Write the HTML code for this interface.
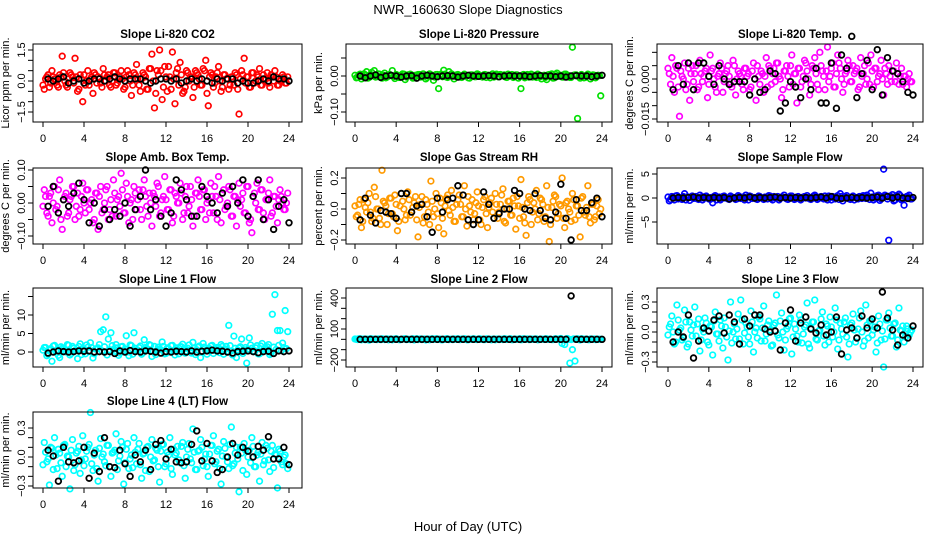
<!DOCTYPE html>
<html><head><meta charset="utf-8"><style>
html,body{margin:0;padding:0;background:#fff;}
svg{display:block;font-family:"Liberation Sans",sans-serif;}
</style></head><body>
<svg id="chart" width="936" height="540" viewBox="0 0 936 540">
<text x="468" y="14" text-anchor="middle" font-size="13">NWR_160630  Slope Diagnostics</text>
<text x="468" y="531" text-anchor="middle" font-size="13">Hour of Day (UTC)</text>
</svg>
<script>
// ---- data (per panel value arrays) ----
const xTicks = [0,4,8,12,16,20,24];
const co2Vals = [-0.4,0.2,-0.3,0.5,0.1,-0.2,0.3,1.2,0.0,-0.3,0.4,0.2,1.1,-0.5,0.3,-1.0,-0.2,0.5,0.1,-0.6,0.3,0.2,-0.1,0.6,0.0,0.3,-0.3,0.4,-0.2,0.1,0.5,-0.4,0.2,0.3,-0.7,0.4,0.8,-0.2,0.1,0.3,-0.4,0.6,1.3,-1.3,0.5,1.5,-0.9,0.7,-0.5,0.2,1.4,-1.1,0.6,0.9,-0.6,-0.3,0.4,0.2,-0.8,0.5,0.3,-0.2,0.6,1.0,-1.2,0.4,-0.3,0.2,0.7,-0.5,0.3,0.1,-0.4,0.2,-0.2,0.3,-1.6,0.5,1.1,0.2,-0.3,0.4,-0.1,0.3,0.6,-0.2,0.1,0.4,-0.3,0.2,0.5,-0.2,0.0,0.3,-0.1,0.2];
const co2Vals2 = [-0.2,0.1,0.3,-0.1,0.2,0.0,-0.3,0.2,0.4,-0.2,0.1,0.3,-0.1,0.2,-0.4,0.1,0.3,0.0,-0.2,0.2,0.4,-0.1,0.1,-0.3,0.3,0.2,-0.2,0.0,0.4,-0.1,0.2,0.1,-0.3,0.5,0.0,-0.2,0.3,0.1,-0.5,0.4,0.2,-0.4,0.6,0.0,-0.6,0.3,0.5,-0.3,0.2,0.7,-0.4,0.1,0.4,-0.2,0.3,-0.5,0.5,0.0,0.2,-0.3,0.4,0.1,-0.2,0.5,-0.6,0.2,0.3,-0.1,0.4,0.0,-0.3,0.3,0.1,-0.2,0.2,0.4,-0.4,0.1,0.3,-0.1,0.2,-0.3,0.4,0.0,0.2,-0.2,0.3,0.1,-0.1,0.3,0.0,0.2,-0.2,0.1,0.2,-0.1];
const co2Ref = [0.1,0.0,0.1,0.2,-0.1,0.0,0.1,-0.1,0.0,0.1,0.1,0.0,0.1,0.2,0.1,0.0,0.1,0.1,0.1,0.0,-0.1,0.0,0.1,0.1,0.0,0.1,-0.1,0.0,0.1,0.0,0.1,0.0,-0.1,0.1,0.0,0.1,0.1,-0.1,0.0,-0.1,-0.1,0.0,0.1,0.0,0.2,0.1,0.1,0.0];
const presVals = [-0.005,0.003,-0.008,0.006,0.012,-0.004,0.01,0.015,-0.002,0.005,-0.006,0.008,-0.003,0.004,0.015,-0.007,0.002,-0.004,0.006,-0.01,0.003,0.005,-0.006,0.002,0.004,-0.003,0.006,-0.008,0.001,0.003,-0.012,0.004,-0.035,0.005,0.016,-0.003,0.012,0.006,-0.008,0.003,0.002,-0.004,0.005,0.001,-0.006,0.003,-0.002,0.006,0.001,-0.003,0.004,0.002,-0.005,0.006,0.003,-0.002,0.004,0.001,-0.003,0.005,0.002,-0.004,0.003,-0.006,-0.035,0.004,0.002,-0.003,0.005,0.001,-0.004,0.003,-0.008,0.002,-0.01,0.004,0.006,-0.005,0.008,0.002,-0.003,0.005,0.002,-0.004,0.08,0.003,-0.118,-0.006,0.002,-0.004,0.005,-0.008,0.003,-0.005,0.002,-0.055];
const presVals2 = [0.002,-0.004,0.005,-0.002,0.003,-0.006,0.004,0.001,-0.003,0.006,-0.001,0.002,-0.005,0.003,0.001,-0.002,0.004,-0.004,0.002,0.005,-0.003,0.001,0.003,-0.005,0.002,0.004,-0.002,0.001,-0.004,0.006,0.002,-0.003,0.004,0.001,-0.002,0.005,-0.004,0.002,0.003,-0.001,0.004,-0.003,0.002,0.001,-0.005,0.003,0.002,-0.002,0.004,-0.001,0.003,-0.004,0.002,0.001,-0.003,0.005,-0.002,0.002,0.003,-0.004,0.001,0.004,-0.002,0.003,-0.001,0.002,-0.005,0.004,0.001,-0.003,0.002,0.005,-0.002,0.001,-0.004,0.003,0.002,-0.006,0.004,-0.001,0.002,-0.003,0.005,0.001,-0.004,0.002,0.003,-0.002,0.004,-0.005,0.001,0.003,-0.002,0.002,-0.001,0.001];
const presRef = [0,-0.005,0,0.003,-0.004,0,0.002,0,-0.003,0,0.001,-0.006,0,0.002,0,-0.002,0,0.001,0,-0.003,0,0.002,0,-0.001,0,0.001,0,-0.002,0,0.001,0,0,0,-0.002,0,0.001,0,0,-0.002,0,-0.003,0,0.001,0,0,-0.002,0,0.002];
const tempVals = [0.002,0.008,-0.005,0.004,-0.014,0.001,0.006,-0.002,-0.008,0.005,0.002,-0.004,0.007,-0.001,0.003,-0.007,0.009,0.004,-0.003,0.001,0.006,-0.005,0.002,0.005,-0.002,0.007,-0.006,0.003,0.001,-0.004,0.004,0.002,-0.003,0.006,-0.008,0.001,0.003,-0.005,0.008,0.005,-0.002,0.004,0.006,0.001,-0.007,0.003,0.005,-0.003,0.009,0.002,-0.009,0.004,-0.001,0.007,0.003,-0.006,0.005,0.008,-0.002,0.01,0.003,-0.004,0.012,0.001,0.006,-0.003,0.009,0.004,-0.005,0.002,0.007,-0.001,0.005,0.003,-0.004,0.008,0.002,-0.002,0.006,0.009,-0.003,0.004,0.001,0.007,-0.006,0.002,0.005,-0.001,0.003,0.006,-0.002,0.004,0.001,-0.003,0.002,-0.001];
const tempVals2 = [0.004,-0.002,0.001,0.005,-0.003,0.003,0.0,-0.004,0.004,0.002,-0.001,0.005,-0.003,0.002,0.001,0.004,-0.002,0.003,0.0,-0.005,0.002,0.004,-0.001,0.003,0.001,-0.003,0.005,0.0,0.002,-0.002,0.004,0.001,-0.004,0.003,0.0,0.005,-0.002,0.002,0.001,-0.003,0.004,0.002,-0.001,0.006,0.0,-0.004,0.003,0.001,0.005,-0.002,0.002,0.004,-0.003,0.001,0.006,0.0,-0.002,0.004,0.002,-0.004,0.005,0.001,0.003,-0.001,0.004,-0.003,0.002,0.006,0.0,-0.002,0.003,0.005,-0.001,0.002,0.004,-0.003,0.001,0.005,0.0,-0.002,0.003,0.004,-0.001,0.002,0.0,0.004,-0.002,0.001,0.003,-0.001,0.002,0.001,-0.002,0.001,0.0,-0.001];
const tempRef = [-0.004,0.005,-0.002,0.006,-0.004,0.006,0.006,0.001,-0.002,0.005,0.0,-0.002,-0.001,-0.001,-0.001,-0.006,0.0,-0.005,-0.004,0.003,0.002,-0.012,-0.009,-0.001,-0.003,-0.007,0.0,-0.004,0.004,-0.009,-0.009,0.006,-0.011,0.009,0.004,0.016,-0.007,0.002,0.007,-0.004,0.011,-0.006,0.008,0.003,0.002,-0.001,-0.005,-0.006];
const ambVals = [0.04,-0.03,0.02,-0.06,0.05,-0.01,0.07,-0.08,0.02,-0.04,0.01,0.05,-0.05,0.03,-0.02,0.06,-0.03,0.04,0.0,-0.06,0.03,-0.08,0.05,-0.02,0.04,-0.05,0.01,0.07,-0.04,0.02,0.09,-0.03,0.06,-0.06,0.01,0.05,-0.02,0.04,-0.05,0.07,-0.01,0.03,-0.07,0.02,0.06,-0.04,0.01,0.08,-0.02,0.04,-0.06,0.03,0.0,0.06,-0.05,0.02,-0.03,0.05,-0.07,0.03,0.07,-0.02,0.04,-0.05,0.01,0.06,-0.03,0.02,0.08,-0.06,0.04,-0.01,0.05,-0.04,0.02,-0.07,0.06,0.01,-0.03,0.05,-0.06,-0.09,0.03,0.06,-0.02,0.04,-0.05,0.01,0.07,-0.03,0.02,-0.06,0.04,0.0,-0.02,0.03];
const ambVals2 = [-0.01,0.02,-0.04,0.03,0.0,-0.02,0.04,-0.05,0.01,0.03,-0.03,0.02,0.05,-0.01,-0.04,0.02,0.0,0.04,-0.02,0.01,-0.05,0.03,0.02,-0.03,0.0,0.05,-0.02,-0.04,0.03,0.01,-0.01,0.04,-0.03,0.02,0.0,-0.05,0.03,0.01,-0.02,0.04,0.02,-0.04,0.0,0.03,-0.01,0.05,-0.03,0.02,0.01,-0.02,0.04,-0.04,0.02,0.0,0.03,-0.03,0.05,-0.01,0.01,-0.04,0.03,0.02,-0.02,0.04,0.0,-0.03,0.02,0.05,-0.05,0.01,0.03,-0.02,0.0,0.04,-0.04,0.02,0.01,-0.01,0.03,-0.03,0.05,-0.05,0.02,0.0,-0.02,0.04,-0.03,0.01,0.03,-0.04,0.02,-0.01,0.01,0.02,-0.02,0.0];
const ambRef = [-0.01,0.05,-0.03,0.01,-0.01,0.03,0.06,0.01,-0.06,0.0,-0.07,-0.02,-0.05,-0.02,-0.04,0.0,-0.07,-0.02,0.02,0.1,-0.02,0.01,-0.04,-0.07,-0.03,0.07,0.04,0.01,-0.04,-0.04,0.05,0.02,0.0,-0.03,0.03,-0.01,0.05,0.0,0.07,-0.04,0.02,0.07,-0.05,0.01,-0.08,-0.01,0.01,-0.06];
const rhVals = [-0.05,0.03,-0.12,0.06,-0.02,0.1,-0.08,0.14,0.0,-0.06,0.25,0.04,-0.1,0.07,-0.03,0.09,-0.14,0.02,0.05,-0.07,0.11,-0.04,0.01,0.08,-0.18,0.03,-0.09,0.06,-0.02,0.18,-0.05,0.1,-0.12,0.04,-0.16,0.07,-0.01,0.12,-0.08,0.03,0.09,-0.05,0.15,-0.11,0.02,0.06,-0.03,0.11,-0.07,0.01,0.08,-0.12,0.04,-0.02,0.1,-0.06,0.03,0.13,-0.09,0.05,-0.04,0.07,-0.13,0.02,0.19,-0.05,-0.17,0.08,-0.1,0.04,0.12,-0.03,0.06,-0.08,0.15,-0.21,0.01,0.09,-0.06,0.03,0.2,-0.12,0.05,-0.02,0.1,-0.07,0.02,-0.18,0.08,-0.04,0.15,-0.09,0.03,-0.05,0.06,0.0];
const rhVals2 = [0.02,-0.04,0.06,-0.08,0.01,0.04,-0.02,-0.06,0.08,0.0,-0.1,0.05,0.02,-0.03,0.07,-0.05,0.03,-0.08,0.1,0.0,-0.04,0.06,-0.02,0.04,-0.07,0.01,0.08,-0.05,0.03,-0.1,0.05,0.0,-0.03,0.07,-0.06,0.02,0.09,-0.04,0.01,-0.08,0.06,0.03,-0.05,0.0,0.08,-0.02,-0.07,0.04,0.02,-0.1,0.06,-0.03,0.01,0.07,-0.06,0.03,-0.02,0.09,-0.08,0.0,0.05,-0.04,0.02,0.08,-0.06,0.01,-0.09,0.04,0.06,-0.02,0.0,-0.07,0.07,0.03,-0.05,0.01,-0.1,0.05,0.08,-0.03,0.02,-0.06,0.04,0.0,-0.08,0.06,0.02,-0.04,0.07,-0.02,0.01,-0.05,0.03,-0.07,0.02,-0.03];
const rhRef = [-0.07,0.07,-0.04,-0.09,-0.01,-0.02,-0.03,-0.06,0.1,0.1,-0.02,0.02,0.03,-0.05,-0.15,0.07,-0.02,0.06,0.07,0.15,0.09,-0.07,-0.1,-0.07,0.11,0.03,-0.06,-0.03,0.0,0.0,0.12,0.1,0.0,-0.01,0.1,-0.01,-0.06,-0.07,-0.02,0.16,-0.06,-0.2,0.06,-0.01,-0.01,0.04,0.07,-0.05];
const sampVals = [-0.6,0.3,-0.4,0.5,0.1,-0.3,0.9,0.2,-0.5,0.4,0.0,-0.2,0.6,-0.4,0.3,0.1,-0.3,-1.0,0.5,0.2,-0.4,0.3,0.0,-0.2,0.4,0.1,-0.3,0.5,-0.1,0.2,0.6,-0.4,0.3,0.0,-0.2,0.4,0.1,-0.3,0.2,0.5,-0.1,0.3,0.0,-0.4,0.2,0.6,-0.2,0.1,0.4,-0.3,0.2,0.0,-0.1,0.3,0.5,-0.2,0.1,0.6,-0.3,0.2,0.0,0.4,-0.4,0.1,0.3,-0.2,0.5,0.9,-0.6,0.2,0.0,-0.3,0.4,0.1,-0.2,0.3,0.5,-0.1,0.2,1.0,-0.4,0.3,0.6,-0.2,6.0,0.4,-8.8,0.2,-0.6,0.5,0.8,-0.4,-1.5,0.3,0.6,-0.2];
const sampVals2 = [0.2,-0.3,0.1,0.4,-0.2,0.0,0.3,-0.4,0.2,0.1,-0.1,0.3,-0.3,0.2,0.0,0.4,-0.2,0.1,0.3,-0.4,0.2,-0.1,0.4,0.0,-0.3,0.2,0.1,-0.2,0.3,0.0,-0.4,0.2,0.4,-0.1,0.1,-0.3,0.3,0.0,0.2,-0.2,0.4,-0.4,0.1,0.3,-0.1,0.2,0.0,-0.3,0.4,0.1,-0.2,0.3,-0.4,0.2,0.0,0.1,-0.3,0.4,0.2,-0.1,0.3,-0.2,0.0,0.4,-0.4,0.2,0.1,-0.3,0.3,0.0,0.5,-0.2,0.2,-0.4,0.1,0.3,-0.1,0.4,0.6,-0.3,0.2,0.0,0.5,-0.5,0.3,0.6,-0.2,0.4,0.7,-0.4,0.2,0.5,-0.3,0.1,0.3,-0.2];
const sampRef = [0,0.1,0,0.1,0.2,0,0.1,0,0.1,0,0.1,-0.2,0,0.1,0,0.2,0,0.1,0,0.1,0.2,0,0.1,0,0.1,0,0.1,0,0.1,0.2,0,0.3,0,-0.1,0,0.1,0,0.1,0,0.1,0.2,0,0.3,0,0.2,0,-0.1,0.1];
const l1Vals = [1.2,-1.0,0.5,-2.5,1.8,0.3,-1.5,1.0,0.2,2.0,-0.8,1.5,0.4,-1.8,2.2,0.6,-0.5,1.3,2.5,-1.6,0.8,1.1,5.5,6.0,9.5,3.5,5.2,0.7,2.0,-0.9,1.4,0.3,4.4,-1.0,1.7,5.2,0.5,1.2,-0.6,3.3,0.9,2.0,-1.2,1.5,0.4,0.8,2.7,-0.5,1.1,0.3,1.8,-0.8,0.6,1.4,2.1,-0.3,1.0,0.5,2.6,-0.7,1.3,-1.5,2.3,0.4,0.9,1.6,-0.4,0.7,1.2,2.0,-0.6,1.5,7.2,0.3,4.3,-1.5,1.1,3.5,0.6,-3.0,3.8,1.0,0.2,1.7,-0.5,2.3,0.8,1.4,-0.7,10.2,15.5,5.8,5.8,2.4,11.2,5.5];
const l1Vals2 = [0.5,1.2,-0.6,0.9,1.6,0.2,-0.9,1.4,0.7,0.0,1.8,-0.4,1.0,0.4,1.5,-0.7,0.8,1.9,0.1,1.2,-0.5,0.9,2.0,0.3,1.4,-0.8,0.6,1.7,0.2,1.1,-0.3,1.5,0.8,0.0,1.9,-0.6,1.0,0.5,1.6,-0.2,1.2,0.7,1.8,0.1,-0.7,1.3,0.6,1.5,-0.4,0.9,1.7,0.3,1.1,-0.5,1.4,0.8,0.2,1.9,-0.3,1.0,0.6,1.6,0.0,1.3,-0.6,0.9,1.8,0.4,1.2,-0.2,1.5,0.7,0.1,1.7,-0.8,1.0,0.5,1.4,-0.4,1.2,0.8,1.9,0.2,1.1,-0.5,1.6,0.6,1.0,2.0,-0.3,1.3,0.7,1.8,0.4,1.2,0.9];
const l1Ref = [-0.3,0.0,0.3,0.1,0.0,0.1,0.3,0.2,0.3,0.0,0.1,0.0,0.1,-0.4,0.3,0.0,0.4,0.1,0.0,0.3,0.2,0.0,-0.3,0.1,0.0,0.2,0.1,0.0,0.3,0.0,0.2,0.3,0.5,0.3,0.2,0.0,-0.3,0.1,0.2,0.3,0.1,-0.2,0.1,0.2,-0.4,0.3,0.1,0.3];
const l2Vals = [0,5,-5,3,0,-8,4,2,-3,0,6,-2,4,0,-5,3,1,-4,2,6,0,-3,5,1,-2,4,0,-6,3,2,-1,5,0,-4,2,6,-3,1,4,0,-2,3,5,-4,1,0,3,-2,6,1,-3,4,0,2,-5,3,1,-2,4,0,6,-3,2,0,-4,5,1,-2,3,0,4,-3,2,-1,5,0,-2,3,1,4,-40,-50,8,-230,-100,-210,5,-6,3,0,-2,4,1,-3,2,0];
const l2Vals2 = [3,-2,6,0,-4,2,5,-1,0,4,-3,2,1,-5,3,0,6,-2,1,4,-3,0,2,-6,5,1,-2,3,0,-4,6,2,-1,3,-5,0,4,1,-3,2,5,-2,0,3,-4,1,6,-1,2,0,-3,4,1,-5,3,2,-2,0,5,-1,3,-4,2,0,6,-3,1,4,-2,0,3,-5,2,1,4,-1,0,-3,5,2,8,-6,3,0,-2,4,1,-3,5,0,2,-4,1,3,-1,0];
const l2Ref = [0,0,0,0,0,0,0,0,0,0,0,0,0,0,0,0,0,0,0,0,0,0,0,0,0,0,0,0,0,0,0,0,0,0,0,0,0,0,0,0,0,420,0,0,0,0,0,0];
const l3Vals = [0.05,0.16,-0.12,0.27,0.02,-0.08,0.22,-0.15,0.1,-0.04,0.25,0.08,-0.19,0.03,0.14,-0.1,0.06,-0.23,0.2,-0.02,0.12,-0.16,0.05,-0.28,0.3,0.0,-0.07,0.18,0.32,-0.12,0.09,-0.05,0.21,-0.2,0.04,0.15,-0.09,0.26,-0.02,0.11,-0.14,0.07,0.37,-0.06,0.19,-0.18,0.03,0.13,-0.22,0.08,-0.04,0.17,-0.11,0.05,0.29,-0.16,0.1,0.32,-0.08,0.02,0.2,-0.13,0.06,0.15,-0.05,0.24,-0.17,0.09,-0.02,0.14,-0.25,0.07,0.18,-0.1,0.03,0.21,-0.14,0.27,-0.06,0.11,0.02,-0.2,0.16,-0.08,-0.35,0.12,0.19,-0.04,0.08,-0.15,0.24,0.01,-0.1,0.06,-0.03,0.02];
const l3Vals2 = [-0.03,0.08,0.0,-0.1,0.12,0.04,-0.06,0.1,-0.12,0.02,0.07,-0.04,0.13,-0.08,0.0,0.09,-0.13,0.05,0.11,-0.02,-0.09,0.06,0.14,-0.05,0.01,-0.11,0.08,0.03,-0.07,0.12,-0.01,0.05,-0.12,0.1,0.0,-0.06,0.13,0.04,-0.09,0.07,0.02,-0.13,0.09,-0.03,0.11,0.0,-0.08,0.06,0.14,-0.05,0.03,-0.1,0.12,-0.02,0.07,-0.12,0.04,0.1,-0.07,0.01,0.13,-0.04,0.08,-0.1,0.05,0.0,0.12,-0.08,0.03,0.1,-0.05,-0.12,0.09,0.02,-0.06,0.14,0.0,-0.09,0.07,0.11,-0.03,0.05,-0.11,0.08,0.01,-0.07,0.12,0.04,-0.04,0.09,-0.08,0.02,0.06,-0.05,0.03,0.0];
const l3Ref = [-0.1,0.0,-0.05,0.17,-0.26,-0.09,0.04,0.01,0.12,0.16,-0.01,0.17,0.1,-0.12,0.13,0.06,0.17,0.17,0.03,0.0,0.01,-0.18,0.09,0.22,-0.09,0.09,0.15,0.03,-0.01,0.07,-0.03,0.0,0.15,-0.22,0.02,0.04,-0.06,0.16,0.04,0.13,0.04,0.4,0.14,0.02,-0.13,-0.03,-0.06,0.06];
const l4Vals = [0.15,-0.05,-0.29,0.09,0.2,-0.12,0.04,-0.2,0.13,0.01,-0.33,0.18,-0.08,0.06,-0.17,0.22,-0.02,0.1,0.46,-0.14,0.07,-0.25,0.19,0.03,-0.09,0.12,-0.2,0.05,0.24,-0.04,0.16,-0.28,0.08,-0.12,0.02,0.2,-0.07,0.14,-0.22,0.04,0.1,-0.15,0.18,-0.03,0.07,-0.26,0.13,-0.1,0.05,0.2,-0.18,0.02,0.11,-0.06,0.15,-0.22,0.08,-0.02,0.29,-0.13,0.06,0.18,-0.09,0.03,-0.2,0.12,0.22,-0.05,0.08,-0.28,0.16,0.0,-0.12,0.31,-0.07,0.1,-0.36,0.04,0.14,-0.18,0.07,0.2,-0.1,0.02,-0.25,0.15,-0.04,0.09,-0.15,0.12,0.03,-0.32,0.06,-0.08,0.02,-0.12];
const l4Vals2 = [-0.08,0.05,-0.02,0.1,-0.13,0.02,0.08,-0.06,0.12,-0.1,0.0,0.07,-0.14,0.04,0.11,-0.03,-0.09,0.06,0.13,-0.07,0.02,-0.12,0.09,0.0,-0.05,0.12,-0.1,0.04,0.07,-0.13,0.01,0.1,-0.06,0.14,-0.02,-0.11,0.05,0.08,-0.08,0.03,-0.14,0.11,0.0,-0.04,0.09,-0.1,0.06,0.13,-0.07,0.02,-0.12,0.08,0.04,-0.03,0.11,-0.09,0.0,0.14,-0.06,0.05,-0.13,0.07,0.1,-0.02,-0.1,0.03,0.12,-0.07,0.06,-0.12,0.01,0.09,-0.05,0.13,-0.09,0.04,-0.02,0.1,-0.14,0.07,0.0,-0.06,0.11,-0.1,0.05,0.03,-0.08,0.12,-0.03,0.06,-0.11,0.02,0.08,-0.05,0.0,-0.07];
const l4Ref = [0.07,0.01,-0.25,0.1,-0.05,-0.06,-0.04,0.1,-0.22,0.04,-0.15,0.2,-0.1,-0.11,0.07,-0.07,-0.2,0.02,-0.05,0.07,-0.13,0.13,0.17,-0.02,0.08,-0.05,-0.06,-0.05,0.13,0.27,-0.04,0.14,-0.04,-0.16,-0.13,0.0,0.14,0.02,0.1,0.06,0.0,0.11,0.07,0.21,-0.02,-0.02,0.1,-0.08];

// ---- layout ----
const NS = 'http://www.w3.org/2000/svg';
const svg = document.getElementById('chart');
const cols = [{l:33,r:302,x0:43,x24:289},{l:346,r:612,x0:355,x24:602},{l:657,r:923,x0:668,x24:913}];
const rows = [{t:44,b:122,ty:38},{t:168,b:244,ty:161},{t:288,b:367,ty:283},{t:412,b:488,ty:405}];
const panels = [
 {name:'li820-co2',c:0,r:0,title:'Slope Li-820 CO2',yl:'Licor ppm per min.',vals:co2Vals,vals2:co2Vals2,ref:co2Ref,col:'#ff0000',v0:0,p0:81,v1:1.5,p1:50,ticks:[-1.5,-1,-0.5,0,0.5,1,1.5],labs:[-1.5,0,1.5],fmt:1},
 {name:'li820-pressure',c:1,r:0,title:'Slope Li-820 Pressure',yl:'kPa per min.',vals:presVals,vals2:presVals2,ref:presRef,col:'#00e000',v0:0,p0:76,v1:-0.1,p1:112,ticks:[-0.1,-0.05,0,0.05],labs:[-0.1,0],fmt:2},
 {name:'li820-temp',c:2,r:0,title:'Slope Li-820 Temp.',yl:'degrees C per min.',vals:tempVals,vals2:tempVals2,ref:tempRef,col:'#ff00ff',v0:0,p0:79,v1:-0.015,p1:119,ticks:[-0.015,-0.01,-0.005,0,0.005,0.01],labs:[-0.015,0],fmt:3},
 {name:'amb-box-temp',c:0,r:1,title:'Slope Amb. Box Temp.',yl:'degrees C per min.',vals:ambVals,vals2:ambVals2,ref:ambRef,col:'#ff00ff',v0:0,p0:203,v1:0.1,p1:170,ticks:[-0.1,-0.05,0,0.05,0.1],labs:[-0.1,0,0.1],fmt:2},
 {name:'gas-stream-rh',c:1,r:1,title:'Slope Gas Stream RH',yl:'percent per min.',vals:rhVals,vals2:rhVals2,ref:rhRef,col:'#ff9a00',v0:0,p0:209,v1:0.2,p1:178,ticks:[-0.2,-0.1,0,0.1,0.2],labs:[-0.2,0,0.2],fmt:1},
 {name:'sample-flow',c:2,r:1,title:'Slope Sample Flow',yl:'ml/min per min.',vals:sampVals,vals2:sampVals2,ref:sampRef,col:'#0000ff',v0:0,p0:198,v1:5,p1:174,ticks:[-5,0,5],labs:[-5,0,5],fmt:0},
 {name:'line1-flow',c:0,r:2,title:'Slope Line 1 Flow',yl:'ml/min per min.',vals:l1Vals,vals2:l1Vals2,ref:l1Ref,col:'#00ffff',v0:0,p0:352,v1:10,p1:315,ticks:[0,5,10,15],labs:[0,5,10],fmt:0},
 {name:'line2-flow',c:1,r:2,title:'Slope Line 2 Flow',yl:'ml/min per min.',vals:l2Vals,vals2:l2Vals2,ref:l2Ref,col:'#00ffff',v0:100,p0:329,v1:400,p1:298,ticks:[-200,-100,0,100,200,300,400],labs:[-200,100,400],fmt:0},
 {name:'line3-flow',c:2,r:2,title:'Slope Line 3 Flow',yl:'ml/min per min.',vals:l3Vals,vals2:l3Vals2,ref:l3Ref,col:'#00ffff',v0:0,p0:332,v1:0.3,p1:302,ticks:[-0.3,-0.2,-0.1,0,0.1,0.2,0.3],labs:[-0.3,0,0.3],fmt:1},
 {name:'line4-lt-flow',c:0,r:3,title:'Slope Line 4 (LT) Flow',yl:'ml/min per min.',vals:l4Vals,vals2:l4Vals2,ref:l4Ref,col:'#00ffff',v0:0,p0:457,v1:0.3,p1:428,ticks:[-0.3,-0.2,-0.1,0,0.1,0.2,0.3],labs:[-0.3,0,0.3],fmt:1}
];
function mk(tag, attrs, parent){
  const e = document.createElementNS(NS, tag);
  for (const k in attrs) e.setAttribute(k, attrs[k]);
  (parent||svg).appendChild(e);
  return e;
}
panels.forEach(p => {
  const C = cols[p.c], R = rows[p.r];
  const g = mk('g', {});
  
  
  const xs = h => C.x0 + (C.x24 - C.x0) * h / 24;
  const ys = v => p.p0 + (v - p.v0) * (p.p1 - p.p0) / (p.v1 - p.v0);
  const t = mk('text', {x:(C.l+C.r)/2, y:R.ty, 'text-anchor':'middle', 'font-size':11.5, 'font-weight':'bold'}, g);
  t.textContent = p.title;
  
  
  const yl = mk('text', {transform:`translate(${C.l-24},${(R.t+R.b)/2}) rotate(-90)`, 'text-anchor':'middle', 'font-size':11}, g);
  yl.textContent = p.yl;
  
  
  const pts = mk('g', {}, g);
  
  
  [p.vals2, p.vals].forEach((arr, k) => {
    const n = arr.length;
    arr.forEach((v, i) => {
      const h = (i + (k === 0 ? 0.0 : 0.5)) * 24 / n;
      const c = mk('circle', {cx:xs(h), cy:ys(v), r:2.8, fill:'none', stroke:p.col, 'stroke-width':1.7}, pts);
      
      
    });
  });
  p.ref.forEach((v, i) => {
    const h = (i + 1) * 24 / p.ref.length;
    const c = mk('circle', {cx:xs(h), cy:ys(v), r:2.8, fill:'none', stroke:'#000', 'stroke-width':1.8}, pts);
    
    
  });
  const box = mk('rect', {x:C.l, y:R.t, width:C.r-C.l, height:R.b-R.t, fill:'none', stroke:'#000', 'stroke-width':1}, g);
  
  
  xTicks.forEach(h => {
    mk('line', {x1:xs(h), x2:xs(h), y1:R.b, y2:R.b+5, stroke:'#000'}, g);
    const tl = mk('text', {x:xs(h), y:R.b+20, 'text-anchor':'middle', 'font-size':11}, g);
    tl.textContent = h;
    
    
  });
  p.ticks.forEach(v => {
    const y = ys(v);
    mk('line', {x1:C.l-5, x2:C.l, y1:y, y2:y, stroke:'#000'}, g);
  });
  p.labs.forEach(v => {
    const y = ys(v);
    const s = v.toFixed(p.fmt);
    const tl = mk('text', {transform:`translate(${C.l-8},${y}) rotate(-90)`, 'text-anchor':'middle', 'font-size':11}, g);
    tl.textContent = s.replace('-', '\u2212');
    
    
  });
});
</script>
</body></html>
